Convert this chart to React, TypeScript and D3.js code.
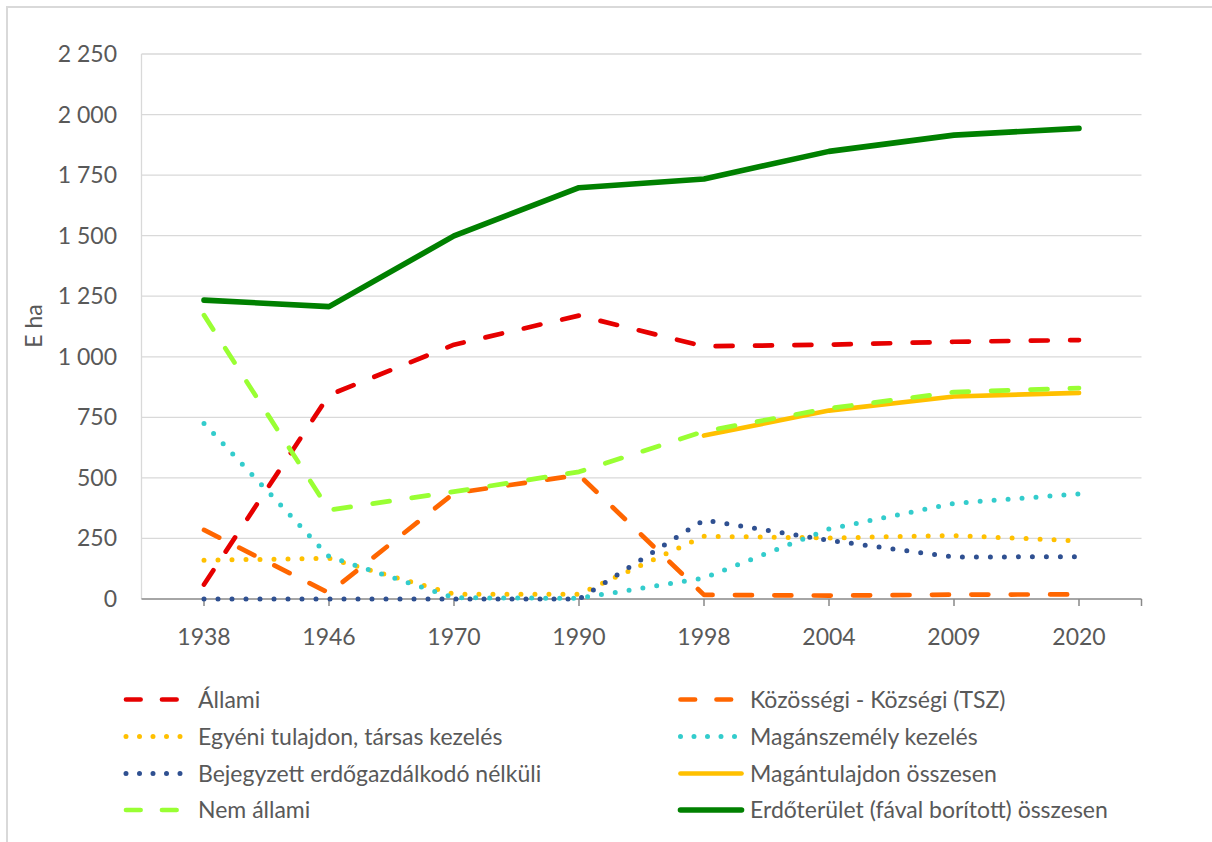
import React from "react";
import * as d3 from "d3";

const years = ["1938", "1946", "1970", "1990", "1998", "2004", "2009", "2020"];
const yTicks = [0, 250, 500, 750, 1000, 1250, 1500, 1750, 2000, 2250];

const allami = [60, 842, 1050, 1170, 1043, 1050, 1062, 1069];
const kozossegi = [285, 25, 437, 512, 17, 14, 18, 19];
const egyeni = [160, 168, 20, 20, 259, 252, 262, 240];
const maganszemely = [725, 175, 5, 3, 87, 289, 395, 434];
const bejegyzett = [0, 0, 0, 0, 326, 242, 173, 175];
const magantulajdon = [null, null, null, null, 675, 778, 836, 851];
const nemAllami = [1172, 367, 443, 525, 692, 787, 854, 871];
const erdoterulet = [1234, 1207, 1499, 1698, 1734, 1848, 1915, 1943];

type Style = "dash" | "dot" | "solid";
const series: { name: string; values: (number | null)[]; color: string; style: Style; width: number }[] = [
  { name: "Állami", values: allami, color: "#E60000", style: "dash", width: 4.7 },
  { name: "Közösségi - Községi (TSZ)", values: kozossegi, color: "#FF6600", style: "dash", width: 4.7 },
  { name: "Egyéni tulajdon, társas kezelés", values: egyeni, color: "#FFC000", style: "dot", width: 5 },
  { name: "Magánszemély kezelés", values: maganszemely, color: "#33CCCC", style: "dot", width: 5 },
  { name: "Bejegyzett erdőgazdálkodó nélküli", values: bejegyzett, color: "#2F5091", style: "dot", width: 5 },
  { name: "Magántulajdon összesen", values: magantulajdon, color: "#FFC000", style: "solid", width: 4.7 },
  { name: "Nem állami", values: nemAllami, color: "#99FF33", style: "dash", width: 4.7 },
  { name: "Erdőterület (fával borított) összesen", values: erdoterulet, color: "#008000", style: "solid", width: 5.6 },
];

const FONT = "Lato, 'Open Sans', sans-serif";
const TEXT = "#595959";
const FS = 23;

export default function App() {
  const left = 141.5, right = 1141.5, top = 54, bottom = 599;
  const x = d3.scaleBand<string>().domain(years).range([left, right]);
  const cx = (yr: string) => (x(yr) as number) + x.bandwidth() / 2;
  const y = d3.scaleLinear().domain([0, 2250]).range([bottom, top]);

  const dashFor = (s: Style, legend = false) =>
    s === "dash" ? (legend ? "14.6 21.4" : "17 22.4") : s === "dot" ? (legend ? "0 13.5" : "0 14") : undefined;

  const lineGen = d3
    .line<number | null>()
    .defined((d) => d !== null)
    .x((_, i) => cx(years[i]))
    .y((d) => y(d as number));

  const legendRows = [699.5, 736.5, 773.5, 810];

  return (
    <svg width={1212} height={842} style={{ position: "absolute", left: 0, top: 0 }}>
      <rect x={0} y={0} width={1212} height={842} fill="#fff" />
      <rect x={7} y={7} width={1240} height={880} fill="none" stroke="#D9D9D9" strokeWidth={2} />
      {/* gridlines */}
      {yTicks.map((t) =>
        t === 0 ? null : (
          <line key={t} x1={left} x2={right} y1={y(t)} y2={y(t)} stroke="#D9D9D9" strokeWidth={1.3} />
        )
      )}
      <line x1={left} x2={left} y1={top} y2={bottom} stroke="#D9D9D9" strokeWidth={1.3} />
      {/* y tick labels */}
      {yTicks.map((t) => (
        <text
          key={t}
          x={117}
          y={y(t) + 8}
          textAnchor="end"
          fontFamily={FONT}
          fontSize={FS}
          fill={TEXT}
        >
          {d3.format(",")(t).replace(/,/g, " ")}
        </text>
      ))}
      <text
        transform={`translate(${42},${326}) rotate(-90)`}
        textAnchor="middle"
        fontFamily={FONT}
        fontSize={FS}
        fill={TEXT}
      >
        E ha
      </text>
      {/* x axis */}
      <line x1={left} x2={right} y1={bottom} y2={bottom} stroke="#898989" strokeWidth={1.5} />
      {[...years.map((yr) => cx(yr)), right].map((px, i) => (
        <line key={i} x1={px} x2={px} y1={bottom} y2={bottom + 7} stroke="#898989" strokeWidth={1.5} />
      ))}
      {years.map((yr) => (
        <text key={yr} x={cx(yr)} y={644.5} textAnchor="middle" fontFamily={FONT} fontSize={FS} fill={TEXT}>
          {yr}
        </text>
      ))}
      {/* series */}
      {series.map((s) => (
        <path
          key={s.name}
          d={lineGen(s.values) || ""}
          fill="none"
          stroke={s.color}
          strokeWidth={s.width}
          strokeLinecap="round"
          strokeLinejoin="round"
          strokeDasharray={dashFor(s.style)}
        />
      ))}
      {/* legend */}
      {series.map((s, i) => {
        const col = i % 2;
        const row = Math.floor(i / 2);
        const sx = col === 0 ? 126 : 680.5;
        const tx = col === 0 ? 198 : 750;
        const ly = legendRows[row];
        const ex = s.style === "solid" ? sx + 61 : sx + 55;
        return (
          <g key={s.name}>
            <line
              x1={sx}
              x2={ex}
              y1={ly}
              y2={ly}
              stroke={s.color}
              strokeWidth={s.width}
              strokeLinecap="round"
              strokeDasharray={dashFor(s.style, true)}
            />
            <text x={tx} y={ly + 8} fontFamily={FONT} fontSize={FS} fill={TEXT}>
              {s.name}
            </text>
          </g>
        );
      })}
    </svg>
  );
}
